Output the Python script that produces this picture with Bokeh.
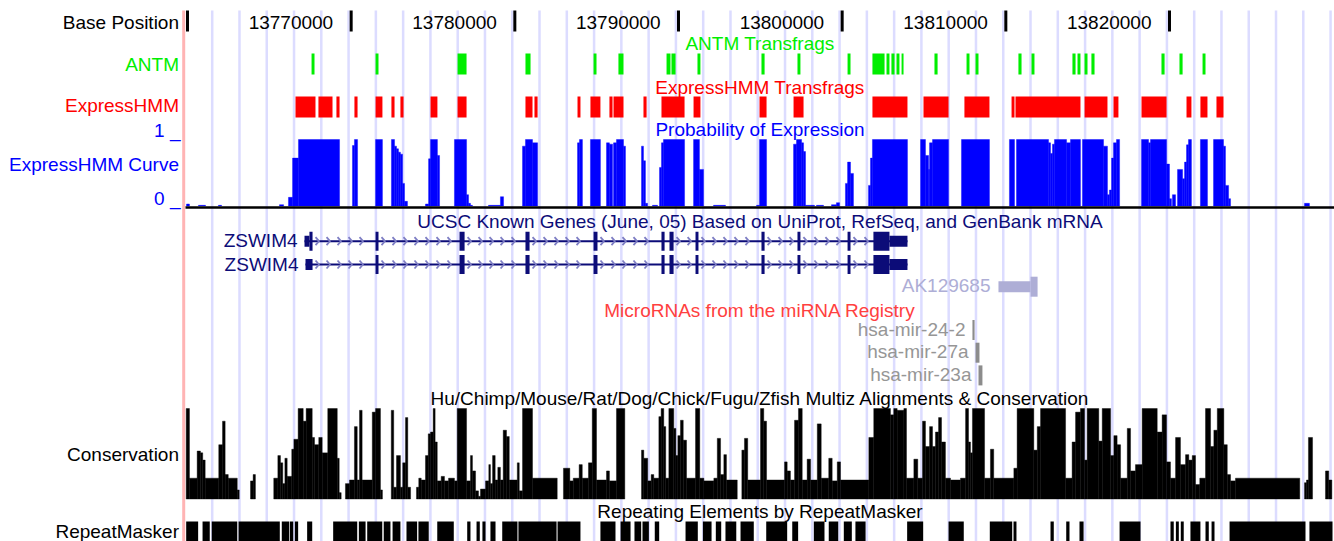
from bokeh.plotting import figure
from bokeh.models import Range1d
from bokeh.core.properties import value
from bokeh.embed import file_html
from bokeh.resources import INLINE

# ---------------- data (chr19 positions, bp) ----------------
TICKS = [13760000, 13770000, 13780000, 13790000, 13800000, 13810000, 13820000]
TICK_LABELS = ["", "13770000", "13780000", "13790000", "13800000", "13810000", "13820000"]

ANTM_START = [13767580, 13771490, 13776500, 13780650, 13784810, 13786330, 13789270, 13789570, 13791160, 13795070,
              13797270, 13800330, 13801850, 13802710, 13803010, 13803320, 13803630, 13805640, 13807600, 13808150,
              13810770, 13811570, 13814070, 13814380, 13814810, 13815230, 13819510, 13820610, 13822020]
ANTM_END = [13767760, 13771670, 13777050, 13780960, 13784990, 13786640, 13789510, 13789820, 13791340, 13795260,
            13797450, 13800510, 13802590, 13802890, 13803200, 13803500, 13803750, 13805830, 13807780, 13808330,
            13810960, 13811750, 13814260, 13814560, 13814990, 13815420, 13819700, 13820800, 13822200]

EHMM_START = [13766600, 13768000, 13769100, 13770200, 13771490, 13772460, 13773010, 13774850, 13776500, 13780650,
              13781200, 13783830, 13784620, 13785780, 13786030, 13787860, 13788960, 13790920, 13794950, 13797030,
              13801850, 13804970, 13807470, 13810350, 13810590, 13814810, 13816580, 13818290, 13821040, 13821890,
              13822870]
EHMM_END = [13767820, 13768860, 13769290, 13770390, 13771910, 13772650, 13773200, 13775270, 13777050, 13781080,
            13781390, 13784010, 13785230, 13785970, 13786640, 13788050, 13790370, 13791340, 13795380, 13797640,
            13803990, 13806500, 13809000, 13810530, 13814560, 13816210, 13816880, 13819820, 13821340, 13822320,
            13823300]

CURVE_START = [13759940, 13760670, 13761890, 13765620, 13766170, 13766420, 13766780, 13770080, 13770200, 13771490,
               13772460, 13772650, 13772770, 13772890, 13773010, 13773140, 13773260, 13774540, 13774730, 13774850,
               13775270, 13776310, 13777050, 13777170, 13777290, 13778390, 13779120, 13780470, 13780650, 13781080,
               13783830, 13783950, 13784620, 13785600, 13785780, 13786030, 13786210, 13786640, 13787740, 13787860,
               13787980, 13788410, 13788840, 13788960, 13789080, 13790920, 13791280, 13792140, 13794770, 13794950,
               13797030, 13797210, 13797520, 13797640, 13797760, 13798430, 13799350, 13799650, 13800200, 13800330,
               13800510, 13801610, 13801730, 13801850, 13804790, 13805090, 13805280, 13805340, 13805520, 13807290,
               13810220, 13810650, 13812610, 13812730, 13812850, 13812970, 13813710, 13813950, 13814680, 13815970,
               13816210, 13816330, 13816460, 13816580, 13816760, 13818290, 13818720, 13818840, 13819820, 13820000,
               13820180, 13820490, 13820800, 13820920, 13821040, 13821160, 13821890, 13822690, 13823300, 13823420,
               13823610, 13828250]
CURVE_END = [13760120, 13761100, 13762080, 13765870, 13766420, 13766780, 13769290, 13770200, 13770390, 13771910,
             13772650, 13772770, 13772890, 13773010, 13773140, 13773260, 13773440, 13774730, 13774850, 13775270,
             13775400, 13777050, 13777170, 13777290, 13777410, 13779120, 13779310, 13780650, 13781080, 13781390,
             13783950, 13784130, 13785230, 13785780, 13785970, 13786210, 13786640, 13786760, 13787860, 13787980,
             13788110, 13788720, 13788960, 13789080, 13790370, 13791280, 13791530, 13792870, 13794950, 13795380,
             13797210, 13797520, 13797640, 13797760, 13798310, 13798860, 13799650, 13799840, 13800330, 13800510,
             13800690, 13801730, 13801850, 13803990, 13805090, 13805280, 13805340, 13805520, 13806500, 13809000,
             13810530, 13812610, 13812730, 13812850, 13812970, 13813710, 13813950, 13814560, 13815970, 13816210,
             13816330, 13816460, 13816580, 13816760, 13816950, 13818720, 13818840, 13819820, 13820000, 13820120,
             13820370, 13820800, 13820920, 13821040, 13821160, 13821340, 13822320, 13823300, 13823420, 13823610,
             13823730, 13828550]
CURVE_VAL = [0.03, 0.01, 0.01, 0.02, 0.13, 0.72, 1.0, 0.91, 1.0, 1.0,
             1.0, 0.9, 0.86, 0.81, 0.78, 0.34, 0.07, 0.03, 0.71, 1.0,
             0.76, 1.0, 0.17, 0.04, 0.01, 0.01, 0.14, 0.9, 1.0, 0.95,
             0.95, 1.0, 1.0, 0.95, 0.93, 0.95, 1.0, 0.9, 0.9, 0.68,
             0.04, 0.01, 0.58, 0.95, 1.0, 1.0, 0.55, 0.01, 0.01, 1.0,
             0.93, 1.0, 0.95, 0.82, 0.01, 0.01, 0.02, 0.05, 0.34, 0.66,
             0.49, 0.31, 0.72, 1.0, 1.0, 0.76, 0.55, 0.95, 1.0, 1.0,
             1.0, 1.0, 0.95, 0.79, 0.93, 1.0, 0.95, 1.0, 1.0, 0.9,
             0.17, 0.24, 0.72, 0.95, 1.0, 1.0, 0.95, 1.0, 0.63, 0.11,
             0.17, 0.55, 0.41, 0.66, 0.92, 1.0, 1.0, 1.0, 0.9, 0.31,
             0.11, 0.04]

GENE_NAMES = ["ZSWIM4", "ZSWIM4"]
GENE_TX_START = [13767150, 13767210]
GENE_TX_END = [13803990, 13803990]
GENE_CDS_START = [13767450, 13771490]
GENE_CDS_END = [13802890, 13802890]
ZSWIM4_EXON_START = [13767150, 13771490, 13776620, 13780650, 13784810, 13788960, 13789450, 13791040, 13795070,
                     13797270, 13800330, 13801910]
ZSWIM4_EXON_END = [13767640, 13771670, 13776930, 13780900, 13785050, 13789150, 13789700, 13791220, 13795260,
                   13797450, 13800510, 13803990]

AK_NAME = "AK129685"
AK_TX = [13809550, 13811940]
AK_CDS = [13811510, 13811940]

MIR_NAMES = ["hsa-mir-24-2", "hsa-mir-27a", "hsa-mir-23a"]
MIR_START = [13807960, 13808150, 13808330]
MIR_END = [13808090, 13808390, 13808570]

CONS_EDGES = [13759920, 13760120, 13760590, 13760790, 13760930, 13761080, 13761910, 13762140, 13762300, 13762490,
              13763040, 13763160, 13763850, 13764010, 13764150, 13765270, 13765520, 13765680, 13765820, 13765950,
              13766090, 13766370, 13766500, 13766760, 13767070, 13767250, 13767620, 13767760, 13768020, 13768230,
              13768570, 13769150, 13769270, 13769390, 13769650, 13769900, 13770200, 13770370, 13770510, 13770670,
              13771290, 13771490, 13771790, 13771910, 13772450, 13772600, 13772770, 13773010, 13773150, 13773320,
              13773460, 13773630, 13773990, 13774130, 13774280, 13774540, 13774710, 13774850, 13775010, 13775130,
              13775260, 13775500, 13775700, 13775950, 13776310, 13776480, 13777050, 13777290, 13777410, 13777600,
              13777780, 13777900, 13778210, 13778410, 13778510, 13778640, 13778800, 13778960, 13779120, 13779290,
              13779490, 13779660, 13780150, 13780270, 13780470, 13781080, 13782590, 13782970, 13783360, 13783570,
              13783930, 13784120, 13784500, 13784730, 13784990, 13785600, 13785780, 13786210, 13786720, 13787740,
              13787880, 13788120, 13788330, 13788490, 13788800, 13788940, 13789100, 13789220, 13789410, 13789710,
              13789840, 13789960, 13790120, 13790290, 13790490, 13791040, 13791300, 13791550, 13792160, 13792370,
              13792570, 13792770, 13792930, 13793590, 13793870, 13794030, 13794230, 13795010, 13795210, 13795380,
              13796480, 13796640, 13796840, 13797090, 13797330, 13797560, 13797860, 13798070, 13798480, 13798720,
              13799180, 13799390, 13799700, 13799900, 13801630, 13801930, 13802950, 13803150, 13803360, 13803770,
              13803930, 13804380, 13804620, 13804910, 13805090, 13805340, 13805520, 13805700, 13805890, 13806070,
              13806310, 13806620, 13807230, 13807540, 13807720, 13807840, 13807960, 13808700, 13809060, 13809260,
              13810490, 13810690, 13811710, 13811920, 13812120, 13813650, 13814050, 13814260, 13814560, 13814810,
              13814970, 13815680, 13815890, 13816400, 13816600, 13816800, 13817010, 13817420, 13817620, 13817920,
              13818330, 13819250, 13819550, 13819820, 13820060, 13820370, 13820670, 13820980, 13821180, 13821390,
              13821590, 13821850, 13822200, 13822510, 13822710, 13822920, 13823320, 13823530, 13823730, 13824030,
              13827960, 13828250, 13828370, 13828490, 13828740, 13829530, 13829730, 13829920]
CONS_VALS = [1.0, 0.23, 0.53, 0.51, 0.43, 0.23, 0.6, 0.86, 0.27, 0.23,
             0.1, 0, 0.2, 0.27, 0, 0.23, 0.48, 0.4, 0.17, 0.45,
             0.25, 0.55, 0.66, 1.0, 0.86, 1.0, 0.68, 0.6, 0.68, 0.51,
             1.0, 0.45, 0.07, 0, 0.17, 0.21, 0.8, 0.21, 0.98, 0.21,
             0.96, 1.0, 0.1, 0, 0.98, 0.13, 0.48, 0.13, 0.4, 0.9,
             0.13, 0, 0.13, 0.23, 0.21, 0.48, 0.72, 0.74, 1.0, 0.63,
             0.2, 0.25, 0.2, 0.23, 0.2, 1.0, 0.2, 0.48, 0.31, 0.09,
             0.03, 0.11, 0.2, 0.38, 0.17, 0.48, 0.21, 0.35, 0.21, 0.76,
             0.69, 0.21, 0.4, 0.09, 1.0, 0.23, 0, 0.34, 0.2, 0.23,
             0.38, 0.23, 0.4, 1.0, 0.21, 0.31, 0.2, 1.0, 0, 0.54,
             0.45, 0.2, 0.27, 0.23, 0.91, 1.0, 0.8, 0.23, 1.0, 0.78,
             0.48, 0.7, 0.87, 0.65, 0.23, 1.0, 0.23, 0.2, 0.23, 0.67,
             0.27, 0.49, 0.21, 0, 0.54, 0.67, 0.21, 1.0, 0.86, 0.21,
             0.41, 0.31, 0.21, 0.87, 1.0, 0.21, 0.44, 0.21, 0.83, 0.23,
             0.45, 0.2, 0.41, 0.21, 0.68, 1.0, 0.93, 1.0, 0.98, 1.0,
             0.23, 0.44, 0.23, 0.86, 0.58, 0.8, 0.58, 0.74, 0.9, 0.63,
             0.23, 0.21, 0.23, 1.0, 0.63, 0.51, 1.0, 0.23, 0.55, 0.23,
             0.34, 1.0, 0.54, 0.8, 1.0, 0.23, 0.63, 0.96, 1.0, 0.43,
             1.0, 0.64, 1.0, 0.48, 0.7, 0.6, 0.23, 0.78, 0.31, 0.38,
             1.0, 0.74, 0.93, 0.41, 0.23, 0.68, 0.38, 0.49, 0.43, 0.48,
             0.16, 0.23, 1.0, 0.58, 0.76, 1.0, 0.6, 0.27, 0.2, 0.23,
             0, 0.18, 0.21, 0.68, 0, 0.31, 0.21]

RMSK_START = [13759920, 13760920, 13761480, 13763120, 13765760, 13766250, 13766560, 13767310, 13768900, 13770470,
              13770980, 13771990, 13772530, 13773380, 13774110, 13775260, 13777090, 13777660, 13778020, 13778510,
              13779230, 13780220, 13782610, 13785230, 13786460, 13787310, 13787800, 13788550, 13790430, 13791490,
              13792280, 13792870, 13793790, 13795360, 13796950, 13798270, 13799180, 13800100, 13800810, 13803970,
              13806500, 13809020, 13810470, 13812730, 13813690, 13814500, 13816950, 13820060, 13820390, 13820690,
              13821280, 13822200, 13822570, 13823670, 13828550]
RMSK_END = [13760650, 13761360, 13763040, 13765640, 13766210, 13766460, 13766760, 13767620, 13770370, 13770880,
            13771900, 13772400, 13773010, 13774030, 13774740, 13776270, 13777290, 13777860, 13778210, 13778820,
            13780160, 13782550, 13784010, 13786150, 13787070, 13787720, 13788190, 13788820, 13791180, 13792020,
            13792610, 13793530, 13794600, 13796640, 13797310, 13798920, 13799760, 13800590, 13801430, 13804950,
            13807430, 13810390, 13810650, 13812930, 13813890, 13814750, 13818230, 13820260, 13820570, 13820870,
            13821890, 13822400, 13822750, 13828310, 13829960]

# ---------------- layout / style ----------------
FONT = "Liberation Sans"
FS = "19px"
BPP = 61.1            # bp per screen pixel
TICK0_PX = 187.0      # screen column of the first tick
W, H = 1334, 541
TDY = -7.3            # text vertical correction


def xpx(px):
    return TICKS[0] + (px - TICK0_PX) * BPP


def dpx(n):
    return n * BPP


NAVY = "#0C0C78"
GREEN = "#00EE00"
RED = "#FF0000"
BLUE = "#0000FF"
GRID = "#DCDCFF"

p = figure(width=W, height=H, x_range=Range1d(xpx(0), xpx(W)), y_range=Range1d(H, 0),
           output_backend="svg", toolbar_location=None, x_axis_location=None, y_axis_location=None,
           min_border=0)
p.grid.visible = False
p.outline_line_color = None
p.background_fill_color = "white"
p.border_fill_color = "white"


def txt(x, y, s, color, align="center"):
    p.text(x=[x], y=[y + TDY], text=[s], text_color=color, text_font=value(FONT), text_font_size=FS,
           text_align=align, text_baseline="alphabetic")


# guidelines
g = []
gx = 13761509
while gx < xpx(W):
    g.append(gx)
    gx += 10000 / 6
p.segment(x0=g, y0=[10] * len(g), x1=g, y1=[H] * len(g), line_color=GRID, line_width=2.5)
# left border line
p.segment(x0=[xpx(183.2)], y0=[10], x1=[xpx(183.2)], y1=[H], line_color="#FFB4B4", line_width=3)

LABEL_X = xpx(178.5)
DATA_MID = xpx(759.5)

# base position
p.quad(left=[t - dpx(1.5) for t in TICKS], right=[t + dpx(1.5) for t in TICKS],
       top=[10] * len(TICKS), bottom=[31] * len(TICKS), fill_color="black", line_color=None)
for t, lab in zip(TICKS, TICK_LABELS):
    if lab:
        txt(t - dpx(18), 29.3, lab, "black", "right")
txt(LABEL_X, 29.3, "Base Position", "black", "right")

# ANTM
txt(DATA_MID, 50.5, "ANTM Transfrags", GREEN)
p.quad(left=ANTM_START, right=ANTM_END, top=[53] * len(ANTM_START), bottom=[74] * len(ANTM_START),
       fill_color=GREEN, line_color=None)
txt(LABEL_X, 71, "ANTM", GREEN, "right")

# ExpressHMM
txt(DATA_MID, 94.3, "ExpressHMM Transfrags", RED)
p.quad(left=EHMM_START, right=EHMM_END, top=[96] * len(EHMM_START), bottom=[117] * len(EHMM_START),
       fill_color=RED, line_color=None)
txt(LABEL_X, 112.5, "ExpressHMM", RED, "right")

# curve
CB, CH = 205.5, 66.5
txt(DATA_MID, 136.7, "Probability of Expression", BLUE)
p.quad(left=CURVE_START, right=CURVE_END, top=[CB - v * CH for v in CURVE_VAL], bottom=[CB] * len(CURVE_VAL),
       fill_color=BLUE, line_color=BLUE, line_width=0.4)
txt(xpx(180), 137.3, "1 _", BLUE, "right")
txt(LABEL_X, 171, "ExpressHMM Curve", BLUE, "right")
txt(xpx(180), 205, "0 _", BLUE, "right")
p.segment(x0=[xpx(185)], y0=[207], x1=[xpx(W + 5)], y1=[207], line_color="black", line_width=2.5)

# known genes
txt(DATA_MID, 228.3, "UCSC Known Genes (June, 05) Based on UniProt, RefSeq, and GenBank mRNA", NAVY)
ROWS = [240.7, 264.0]
THICK, THIN = 19, 11
bl, br, bt, bb = [], [], [], []
cxs, cys = [], []
for i, name in enumerate(GENE_NAMES):
    yc = ROWS[i]
    ex_s = list(ZSWIM4_EXON_START)
    ex_e = list(ZSWIM4_EXON_END)
    ex_s[0] = GENE_TX_START[i]
    cs0, ce0 = GENE_CDS_START[i], GENE_CDS_END[i]
    p.segment(x0=[GENE_TX_START[i]], y0=[yc], x1=[GENE_TX_END[i]], y1=[yc], line_color=NAVY, line_width=2)
    for s, e in zip(ex_s, ex_e):
        if s < cs0:
            bl.append(s); br.append(min(e, cs0)); bt.append(yc - THIN / 2); bb.append(yc + THIN / 2)
        if e > ce0:
            bl.append(max(s, ce0)); br.append(e); bt.append(yc - THIN / 2); bb.append(yc + THIN / 2)
        a, b = max(s, cs0), min(e, ce0)
        if b > a:
            bl.append(a); br.append(b); bt.append(yc - THICK / 2); bb.append(yc + THICK / 2)
    for k in range(len(ex_s) - 1):
        pos = ex_e[k] + dpx(5)
        while pos < ex_s[k + 1] - dpx(4):
            cxs.append([pos - dpx(2.0), pos + dpx(1.5), pos - dpx(2.0)])
            cys.append([yc - 4.0, yc, yc + 4.0])
            pos += dpx(11)
    txt(GENE_TX_START[i] - dpx(7), yc + 6.8, name, NAVY, "right")
p.multi_line(xs=cxs, ys=cys, line_color="#7E7EC4", line_width=1.8)
p.quad(left=bl, right=br, top=bt, bottom=bb, fill_color=NAVY, line_color=None)

# AK129685
AKC = "#AEAED6"
yak = 286.2
p.quad(left=[AK_TX[0], AK_CDS[0]], right=[AK_CDS[0], AK_CDS[1]], top=[yak - THIN / 2, yak - THICK / 2 - 0.5],
       bottom=[yak + THIN / 2, yak + THICK / 2 + 0.5], fill_color=AKC, line_color=None)
txt(AK_TX[0] - dpx(8), 292.3, AK_NAME, AKC, "right")

# microRNAs
txt(DATA_MID, 317.3, "MicroRNAs from the miRNA Registry", "#FF4040")
MROWS = [329.5, 352.2, 374.9]
p.quad(left=MIR_START, right=MIR_END, top=[r - 10 for r in MROWS], bottom=[r + 10 for r in MROWS],
       fill_color="#8C8C8C", line_color=None)
for s, r, n in zip(MIR_START, MROWS, MIR_NAMES):
    txt(s - dpx(7), r + 6.3, n, "#969696", "right")

# conservation
txt(DATA_MID, 405.5, "Hu/Chimp/Mouse/Rat/Dog/Chick/Fugu/Zfish Multiz Alignments & Conservation", "black")
KB, KH = 498.5, 90.5
cl, cr, ct = [], [], []
for a, b, v in zip(CONS_EDGES[:-1], CONS_EDGES[1:], CONS_VALS):
    if v > 0:
        cl.append(a); cr.append(b); ct.append(KB - v * KH)
p.quad(left=cl, right=cr, top=ct, bottom=[KB] * len(cl), fill_color="black", line_color="black", line_width=0.4)
txt(LABEL_X, 461, "Conservation", "black", "right")

# repeatmasker
txt(DATA_MID, 518.3, "Repeating Elements by RepeatMasker", "black")
p.quad(left=RMSK_START, right=RMSK_END, top=[521] * len(RMSK_START), bottom=[H + 2] * len(RMSK_START),
       fill_color="black", line_color=None)
txt(LABEL_X, 538.7, "RepeatMasker", "black", "right")

open("out.html", "w").write(file_html(p, INLINE))
